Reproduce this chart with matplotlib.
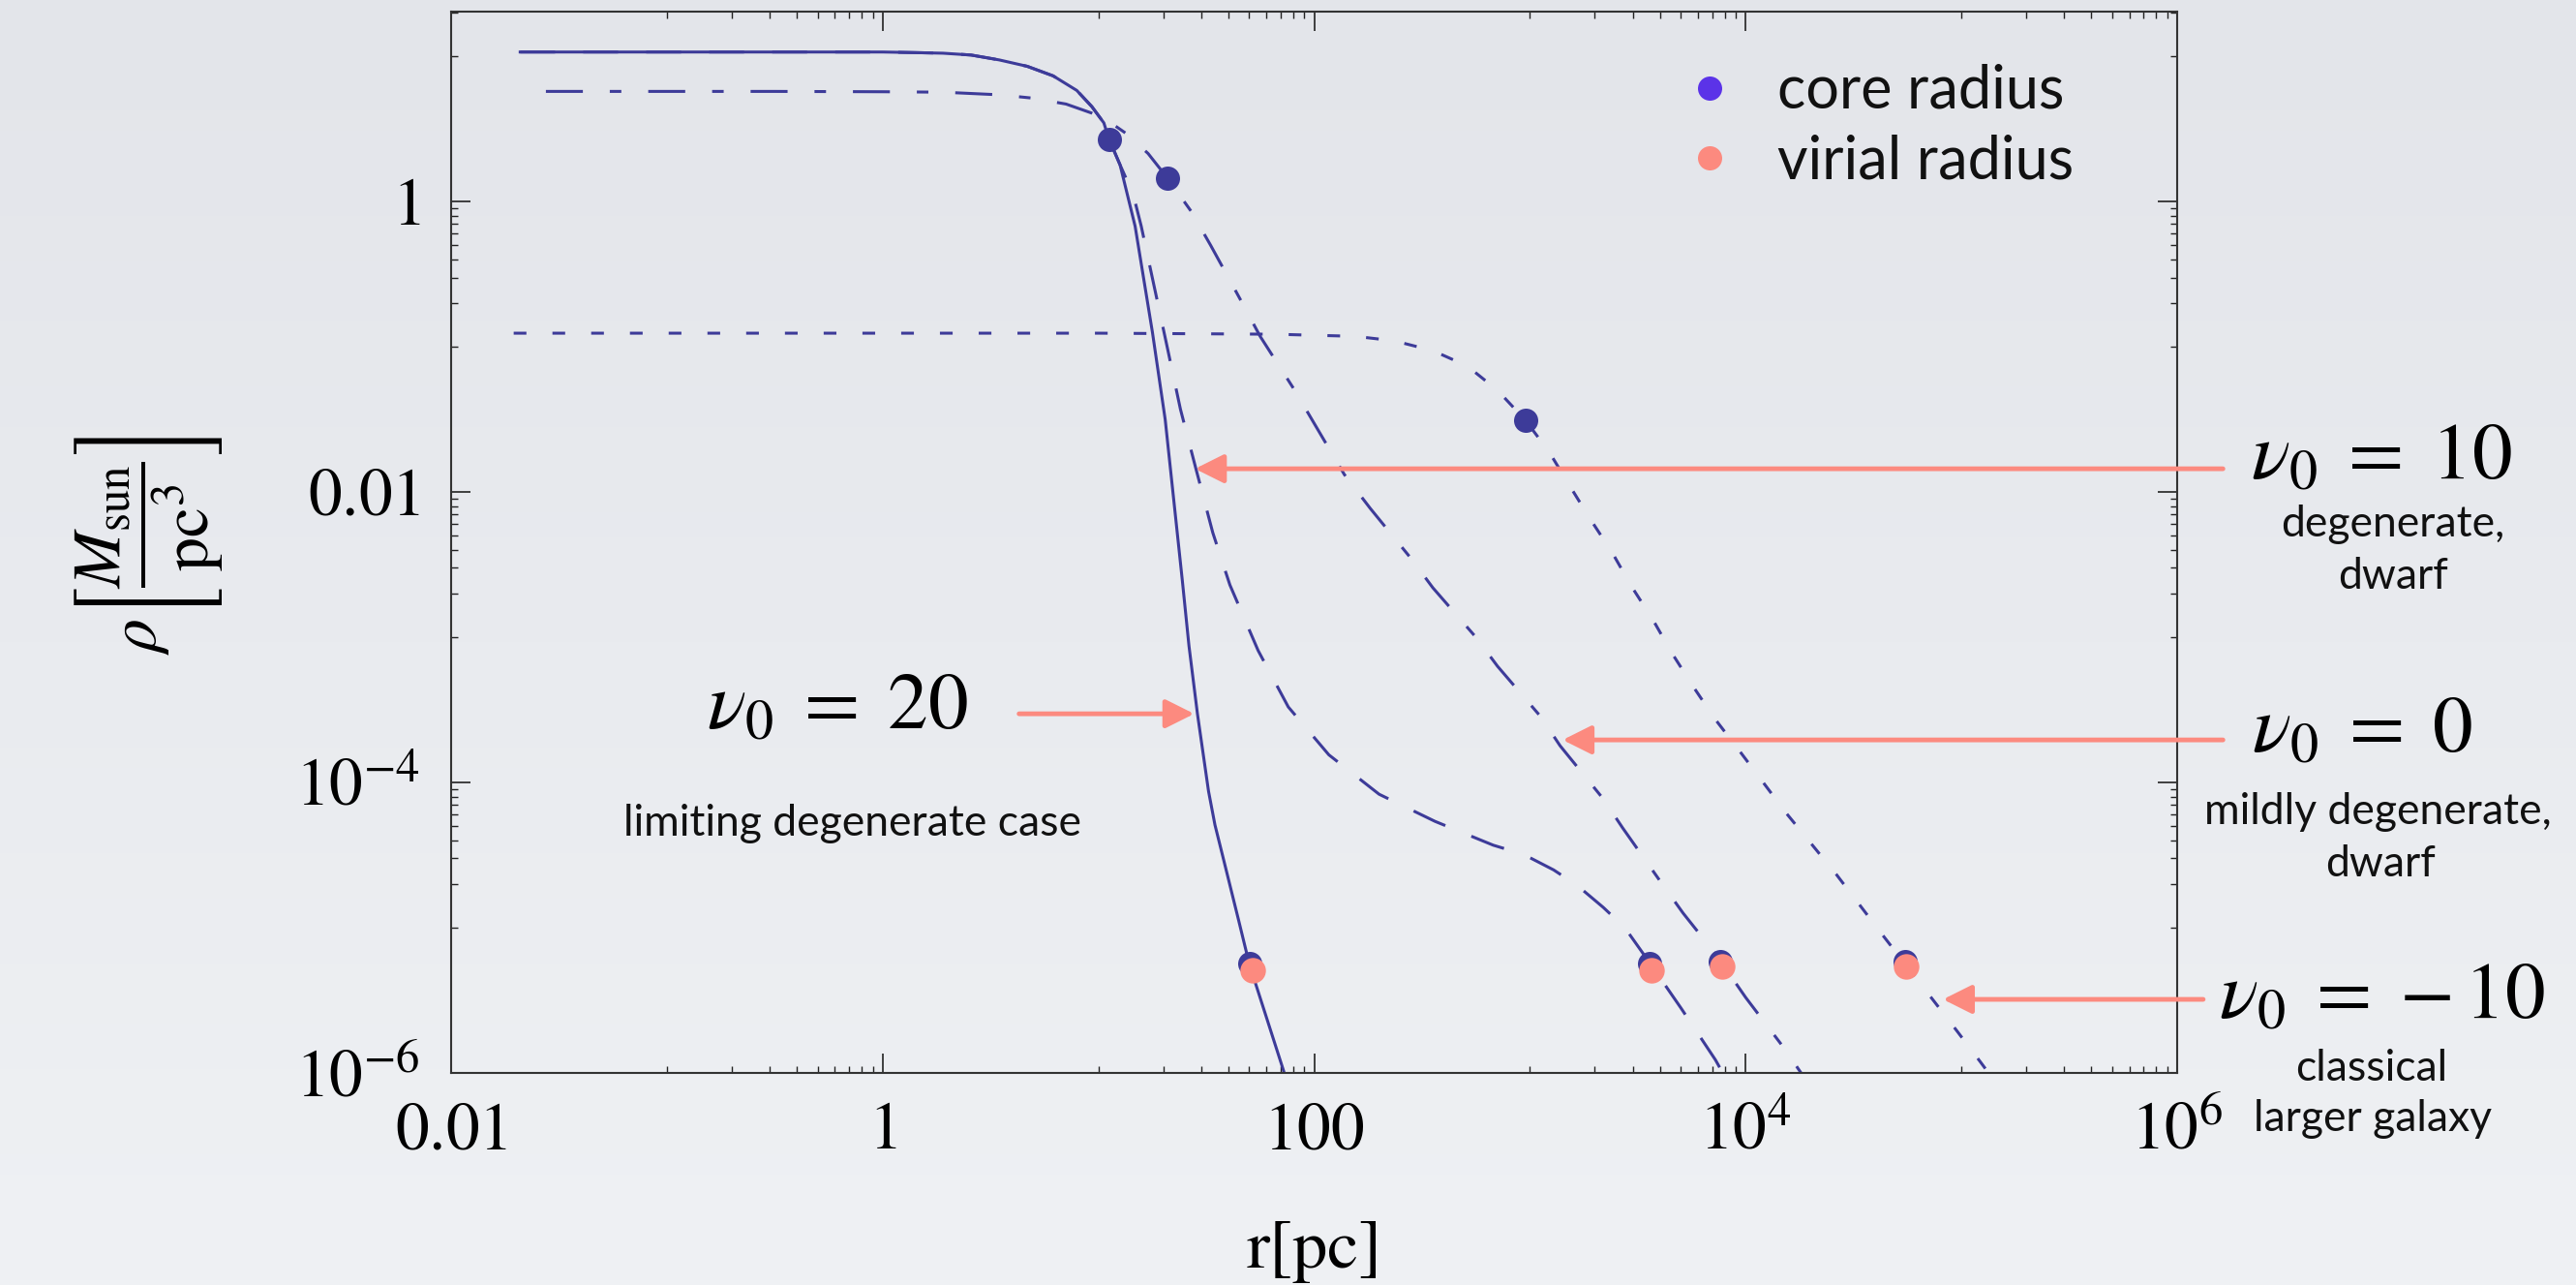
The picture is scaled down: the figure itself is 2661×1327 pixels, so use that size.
import numpy as np
import matplotlib
matplotlib.use("Agg")
import matplotlib.pyplot as plt
from matplotlib.lines import Line2D
from matplotlib.colors import LinearSegmentedColormap
from matplotlib.font_manager import FontProperties
from matplotlib.ticker import FixedLocator, FixedFormatter, NullFormatter

W, H = 2661, 1327

# density profiles, r in pc, rho in M_sun / pc^3
r_nu20 = [0.0209, 0.316, 1.0, 1.413, 1.905, 2.57, 3.47, 4.68, 6.17, 7.94, 9.33, 10.6,
          11.2, 12.6, 14.8, 17.8, 20.4, 24.5, 26.3, 28.8, 32.4, 34.7, 37.6, 44.7, 50.1,
          72.4, 79.4]
rho_nu20 = [10.7, 10.7, 10.7, 10.6, 10.5, 10.2, 9.44, 8.53, 7.33, 5.82, 4.50, 3.48,
            2.69, 1.79, 0.676, 0.126, 0.0316, 2.45e-3, 8.7e-4, 2.95e-4, 8.7e-5, 5.1e-5,
            3.16e-5, 1.12e-5, 5.6e-6, 1.02e-6, 5.6e-7]

r_nu10 = [0.0209, 0.316, 1.0, 1.413, 1.905, 2.57, 3.47, 4.68, 6.17, 7.94, 9.33, 10.6,
          11.2, 12.6, 14.5, 15.8, 17.4, 20.9, 24.0, 28.2, 33.9, 40.7, 55.0, 75.9, 117,
          200, 363, 676, 933, 1288, 1660, 2188, 2754, 3631, 5012, 7244, 8913]
rho_nu10 = [10.7, 10.7, 10.7, 10.6, 10.5, 10.2, 9.44, 8.53, 7.33, 5.82, 4.50, 3.48,
            2.69, 1.79, 1.12, 0.676, 0.347, 0.0977, 0.0372, 0.0148, 5.25e-3, 2.29e-3,
            8.1e-4, 3.31e-4, 1.55e-4, 8.3e-5, 5.4e-5, 3.7e-5, 3.2e-5, 2.5e-5, 1.95e-5,
            1.38e-5, 1.0e-5, 5.6e-6, 2.8e-6, 1.23e-6, 7.1e-7]

r_nu0 = [0.0275, 0.316, 1.0, 1.905, 3.47, 4.90, 7.08, 9.33, 11.2, 13.5, 17.0, 20.9,
         26.9, 33.1, 45.7, 56.2, 81.3, 100, 138, 182, 282, 355, 562, 708, 1122, 1380,
         2188, 2692, 4074, 5129, 7244, 10000, 15136, 19055]
rho_nu0 = [5.73, 5.73, 5.70, 5.66, 5.43, 5.16, 4.69, 4.06, 3.55, 2.93, 2.14, 1.45,
           0.857, 0.501, 0.209, 0.118, 0.0501, 0.0297, 0.0132, 7.71e-3, 3.47e-3,
           2.19e-3, 1.0e-3, 6.31e-4, 2.84e-4, 1.79e-4, 7.71e-5, 4.86e-5, 2.03e-5,
           1.26e-5, 6.6e-6, 3.31e-6, 1.47e-6, 8.9e-7]

r_num10 = [0.0195, 1.0, 10.0, 66.1, 100, 155, 234, 355, 513, 708, 955, 1230, 1514,
           1905, 2399, 2951, 3715, 4571, 5754, 7244, 9333, 15488, 26303, 43652, 74131,
           95499, 123027, 158489]
rho_num10 = [0.124, 0.124, 0.124, 0.122, 0.120, 0.118, 0.110, 0.094, 0.0736, 0.0501,
             0.0311, 0.0188, 0.0113, 6.5e-3, 3.86e-3, 2.25e-3, 1.32e-3, 7.7e-4, 4.5e-4,
             2.71e-4, 1.66e-4, 6.1e-5, 2.33e-5, 8.7e-6, 3.16e-6, 1.94e-6, 1.18e-6, 7.1e-7]

# core radius points
r_core = [11.3, 21.0, 959]
rho_core = [2.66, 1.45, 0.0311]
# outer edge points (under the virial markers)
r_edge = [50.5, 3600, 7640, 54950]
rho_edge = [5.66e-6, 5.66e-6, 5.85e-6, 5.85e-6]
# virial radius points
r_vir = [52.1, 3664, 7798, 55463]
rho_vir = [5.12e-6, 5.12e-6, 5.38e-6, 5.38e-6]

# arrows: tip on each curve, tail r
arrow_tip_r = [27.8, 28.05, 1419, 82200]
arrow_tip_rho = [2.97e-4, 0.01445, 1.963e-4, 3.21e-6]
arrow_tail_r = [4.29, 1.63e6, 1.63e6, 1.32e6]

x_ticks = [1e-2, 1, 1e2, 1e4, 1e6]
x_ticklabels = ["$0.01$", "$1$", "$100$", "$10^4$", "$10^6$"]
y_ticks = [1e-6, 1e-4, 1e-2, 1]
y_ticklabels = ["$10^{-6}$", "$10^{-4}$", "$0.01$", "$1$"]

NAVY = "#3d3b99"
SALMON = "#fc8a7f"
CORE_LEG = "#5b33e8"

plt.rcParams["font.family"] = "STIXGeneral"
plt.rcParams["mathtext.fontset"] = "stix"

fig = plt.figure(figsize=(W / 100, H / 100), dpi=100)

# soft grey backdrop
bg = fig.add_axes([0, 0, 1, 1], zorder=-10)
grad = np.linspace(0, 1, 256)[:, None]
bg.imshow(grad, cmap=LinearSegmentedColormap.from_list("bg", ["#e3e5ea", "#eff1f4"]),
          aspect="auto", extent=[0, 1, 0, 1])
bg.axis("off")

ax = fig.add_axes([466 / W, 1 - 1108 / H, 1783 / W, 1096 / H])
ax.patch.set_visible(False)
ax.set_xscale("log")
ax.set_yscale("log")

lw = 2.2
ax.plot(r_nu20, rho_nu20, color=NAVY, lw=lw, ls="-")
ax.plot(r_nu10, rho_nu10, color=NAVY, lw=lw, ls=(0, (11.8, 9.5)))
ax.plot(r_nu0, rho_nu0, color=NAVY, lw=lw, ls=(0, (12.5, 9.1, 3.9, 9.1)))
ax.plot(r_num10, rho_num10, color=NAVY, lw=lw, ls=(0, (4.3, 8.8)))

ax.plot(r_core, rho_core, "o", color=NAVY, ms=18, mew=0, zorder=4)
ax.plot(r_edge, rho_edge, "o", color=NAVY, ms=18, mew=0, zorder=4)
ax.plot(r_vir, rho_vir, "o", color=SALMON, ms=19, mew=0, zorder=5)

ax.set_xlim(1e-2, 1e6)
ax.set_ylim(1e-6, 20.3)

# Mathematica-style ticks: minor ticks only in every other decade
x_minor = [s * 10.0 ** e for e in (-1, 1, 3, 5) for s in range(1, 10)]
y_minor = [s * 10.0 ** e for e in (-5, -3, -1, 1) for s in range(1, 10)]
ax.xaxis.set_major_locator(FixedLocator(x_ticks))
ax.xaxis.set_major_formatter(FixedFormatter(x_ticklabels))
ax.xaxis.set_minor_locator(FixedLocator(x_minor))
ax.xaxis.set_minor_formatter(NullFormatter())
ax.yaxis.set_major_locator(FixedLocator(y_ticks))
ax.yaxis.set_major_formatter(FixedFormatter(y_ticklabels))
ax.yaxis.set_minor_locator(FixedLocator(y_minor))
ax.yaxis.set_minor_formatter(NullFormatter())

ax.tick_params(which="both", direction="in", top=True, right=True, color="#222222")
ax.tick_params(which="major", length=14.5, width=1.2, labelsize=50)
ax.tick_params(which="minor", length=5, width=1.0)
ax.tick_params(axis="x", which="major", pad=22)
ax.tick_params(axis="y", which="major", pad=23)
for sp in ax.spines.values():
    sp.set_linewidth(1.5)
    sp.set_color("#333333")

ax.set_xlabel("r[pc]", fontsize=52)
ax.xaxis.set_label_coords(0.5, (1108 - 1292) / 1096)
ax.xaxis.label.set_va("center")
ax.set_ylabel(r"$\rho\left[\dfrac{M_{\mathrm{sun}}}{\mathrm{pc}^3}\right]$", fontsize=50)
ax.yaxis.set_label_coords((153 - 466) / 1783, (1108 - 563) / 1096)
ax.yaxis.label.set_va("center")

arrow_kw = dict(arrowstyle="-|>,head_length=0.9,head_width=0.45", color=SALMON,
                lw=3.5, shrinkA=0, shrinkB=0, mutation_scale=20)
for tr, trho, tail in zip(arrow_tip_r, arrow_tip_rho, arrow_tail_r):
    ax.annotate("", xy=(tr, trho), xytext=(tail, trho), arrowprops=arrow_kw,
                annotation_clip=False)

nu_labels = [r"$\nu_0\;=\;20$", r"$\nu_0\;=\;10$", r"$\nu_0\;=\;0$",
             r"$\nu_0\;=\;{-}\,10$"]
nu_xy = [(865, 733), (2460, 475), (2440, 757), (2461, 1032)]
for s, (px, py) in zip(nu_labels, nu_xy):
    fig.text(px / W, 1 - py / H, s, fontsize=60, ha="center", va="center")

gill = FontProperties(family="Lato", weight="normal", size=32)
notes = [("limiting degenerate case", 880, 863),
         ("degenerate,", 2472, 554), ("dwarf", 2472, 608),
         ("mildly degenerate,", 2456, 851), ("dwarf", 2459, 905),
         ("classical", 2450, 1116), ("larger galaxy", 2451, 1168)]
for s, px, py in notes:
    fig.text(px / W, 1 - py / H, s, fontproperties=gill, ha="center", va="baseline",
             color="#111111")

handles = [Line2D([], [], ls="none", marker="o", ms=18, mew=0, color=CORE_LEG),
           Line2D([], [], ls="none", marker="o", ms=18, mew=0, color=SALMON)]
ax.legend(handles, ["core radius", "virial radius"], loc="upper left",
          bbox_to_anchor=(1735 / W, 1 - 66 / H), bbox_transform=fig.transFigure,
          frameon=False, prop=FontProperties(family="Lato", weight="normal", size=44),
          handlelength=1.0, handletextpad=0.65, labelspacing=0.25, borderpad=0,
          borderaxespad=0, labelcolor="#111111")

fig.savefig("out.png", dpi=100)
